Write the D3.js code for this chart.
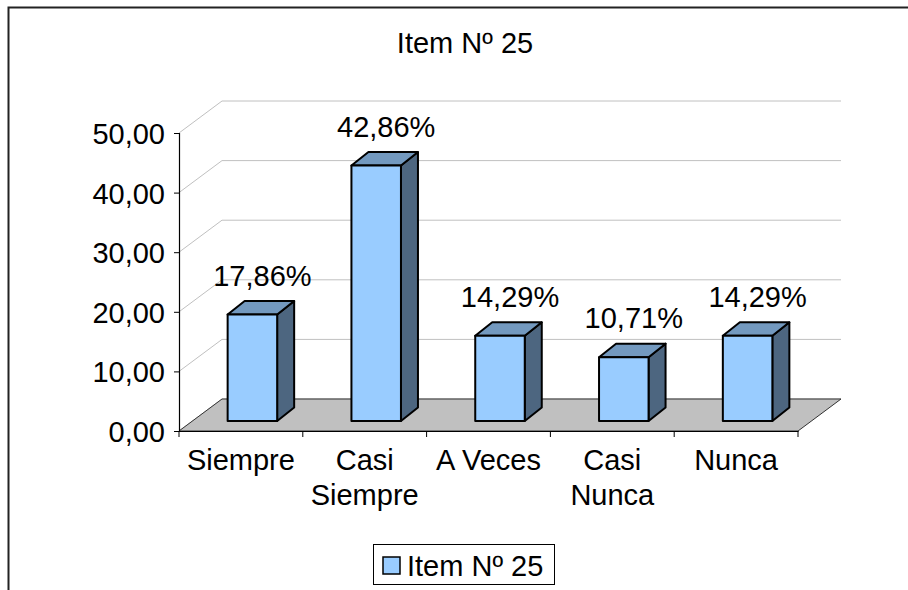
<!DOCTYPE html>
<html>
<head>
<meta charset="utf-8">
<script src="https://cdn.jsdelivr.net/npm/d3@7"></script>
<style>
  html, body { margin: 0; padding: 0; background: #fff; }
  svg { display: block; }
  text { font-family: "Liberation Sans", Arial, sans-serif; fill: #000; }
</style>
</head>
<body>
<svg id="chart" width="908" height="590"></svg>
<script>
// ---- data ----
const title = "Item Nº 25";
const seriesName = "Item Nº 25";
const categories = ["Siempre", "Casi Siempre", "A Veces", "Casi Nunca", "Nunca"];
const values = [17.86, 42.86, 14.29, 10.71, 14.29];
const yTicks = [0, 10, 20, 30, 40, 50];

// ---- layout / style ----
const W = 908, H = 590;
const plot = { left: 179, right: 798, bottom: 431, top: 133 };
const depth = { dx: 43, dy: -32 };        // floor / wall depth
const barFront = { dx: 11.5, dy: -10 };   // bar front face offset into depth
const barDepth = { dx: 17, dy: -13.5 };   // bar thickness in depth
const fontSize = 29;
const colFront = "#99CCFF", colTop = "#7399BF", colSide = "#4D6680";
const gridCol = "#c0c0c0", floorCol = "#c0c0c0";

const svg = d3.select("#chart");
const fmt = v => d3.format(".2f")(v).replace(".", ",");

const x = d3.scaleBand().domain(categories).range([plot.left, plot.right]).padding(0);
const y = d3.scaleLinear().domain([0, 50]).range([plot.bottom, plot.top]);

// outer border (top + left visible)
svg.append("path")
  .attr("d", `M8.5,${H + 5} L8.5,7.5 L${W + 5},7.5`)
  .attr("fill", "none").attr("stroke", "#222").attr("stroke-width", 2);

// title
svg.append("text").attr("x", 465).attr("y", 53)
  .attr("text-anchor", "middle").attr("font-size", fontSize).text(title);

// grid: back wall horizontals and side-wall diagonals
const grid = svg.append("g").attr("stroke", gridCol).attr("stroke-width", 1).attr("fill", "none");
yTicks.forEach(t => {
  const yy = y(t);
  grid.append("line")
    .attr("x1", plot.left + depth.dx).attr("y1", yy + depth.dy)
    .attr("x2", plot.right + depth.dx).attr("y2", yy + depth.dy);
  grid.append("line")
    .attr("x1", plot.left).attr("y1", yy)
    .attr("x2", plot.left + depth.dx).attr("y2", yy + depth.dy);
});

// floor
const y0 = y(0);
svg.append("polygon")
  .attr("points", [
    [plot.left, y0], [plot.left + depth.dx, y0 + depth.dy],
    [plot.right + depth.dx, y0 + depth.dy], [plot.right, y0]
  ].map(p => p.join(",")).join(" "))
  .attr("fill", floorCol).attr("stroke", "#333").attr("stroke-width", 1);

// bars
const bw = x.bandwidth() * 0.4;
const bars = svg.append("g").attr("stroke", "#000").attr("stroke-width", 2).attr("stroke-linejoin", "round");
categories.forEach((c, i) => {
  const v = values[i];
  const x0 = x(c) + x.bandwidth() / 2 - bw / 2 + barFront.dx;
  const x1 = x0 + bw;
  const yb = y(0) + barFront.dy;
  const yt = y(v) + barFront.dy;
  const pts = a => a.map(p => p.join(",")).join(" ");
  bars.append("polygon").attr("fill", colSide).attr("points", pts([
    [x1, yb], [x1, yt], [x1 + barDepth.dx, yt + barDepth.dy], [x1 + barDepth.dx, yb + barDepth.dy]
  ]));
  bars.append("polygon").attr("fill", colTop).attr("points", pts([
    [x0, yt], [x1, yt], [x1 + barDepth.dx, yt + barDepth.dy], [x0 + barDepth.dx, yt + barDepth.dy]
  ]));
  bars.append("rect").attr("fill", colFront)
    .attr("x", x0).attr("y", yt).attr("width", bw).attr("height", yb - yt);
});

// y axis
const yAxis = d3.axisLeft(y).tickValues(yTicks).tickSize(5).tickPadding(9).tickFormat(fmt);
const gy = svg.append("g").attr("transform", `translate(${plot.left},0)`).call(yAxis);
gy.select(".domain").attr("stroke", "#000").attr("stroke-width", 1.2);
gy.selectAll(".tick line").attr("stroke", "#000");
gy.selectAll(".tick text").attr("font-size", fontSize).attr("font-family", null)
  .attr("dy", "0.36em");

// x axis
const xAxis = d3.axisBottom(x).tickSize(0).tickPadding(0).tickFormat("");
const gx = svg.append("g").attr("transform", `translate(0,${plot.bottom})`).call(xAxis);
gx.select(".domain").attr("stroke", "#000").attr("stroke-width", 1.2);
gx.selectAll(".tick").remove();
// category boundary ticks
const bounds = categories.map(c => x(c)).concat([x.range()[1]]);
gx.selectAll("line.bt").data(bounds).join("line").attr("class", "bt")
  .attr("x1", d => d).attr("x2", d => d).attr("y1", 0).attr("y2", 6)
  .attr("stroke", "#000");

// category labels with wrapping
const xl = svg.append("g").attr("font-size", fontSize).attr("text-anchor", "middle");
categories.forEach(c => {
  const cx = x(c) + x.bandwidth() / 2;
  const t = xl.append("text").attr("x", cx).attr("y", 470);
  const words = c.split(" ");
  let line = [], lineNo = 0;
  let tspan = t.append("tspan").attr("x", cx).attr("y", 470);
  words.forEach(w => {
    line.push(w);
    tspan.text(line.join(" "));
    if (tspan.node().getComputedTextLength() > x.bandwidth() - 4 && line.length > 1) {
      line.pop();
      tspan.text(line.join(" "));
      line = [w];
      lineNo++;
      tspan = t.append("tspan").attr("x", cx).attr("y", 470 + lineNo * 35).text(w);
    }
  });
});

// data labels
svg.append("g").attr("font-size", fontSize).attr("text-anchor", "middle")
  .selectAll("text").data(values).join("text")
  .attr("x", (d, i) => x(categories[i]) + x.bandwidth() / 2 + depth.dx / 2)
  .attr("y", d => y(d) - 39)
  .text(d => fmt(d) + "%");

// legend
const lg = svg.append("g");
lg.append("rect").attr("x", 373.5).attr("y", 544.5).attr("width", 181).attr("height", 40)
  .attr("fill", "#fff").attr("stroke", "#000").attr("stroke-width", 1);
lg.append("rect").attr("x", 383).attr("y", 557).attr("width", 17).attr("height", 17)
  .attr("fill", colFront).attr("stroke", "#000").attr("stroke-width", 1.5);
lg.append("text").attr("x", 407).attr("y", 576).attr("font-size", fontSize).text(seriesName);
</script>
</body>
</html>
